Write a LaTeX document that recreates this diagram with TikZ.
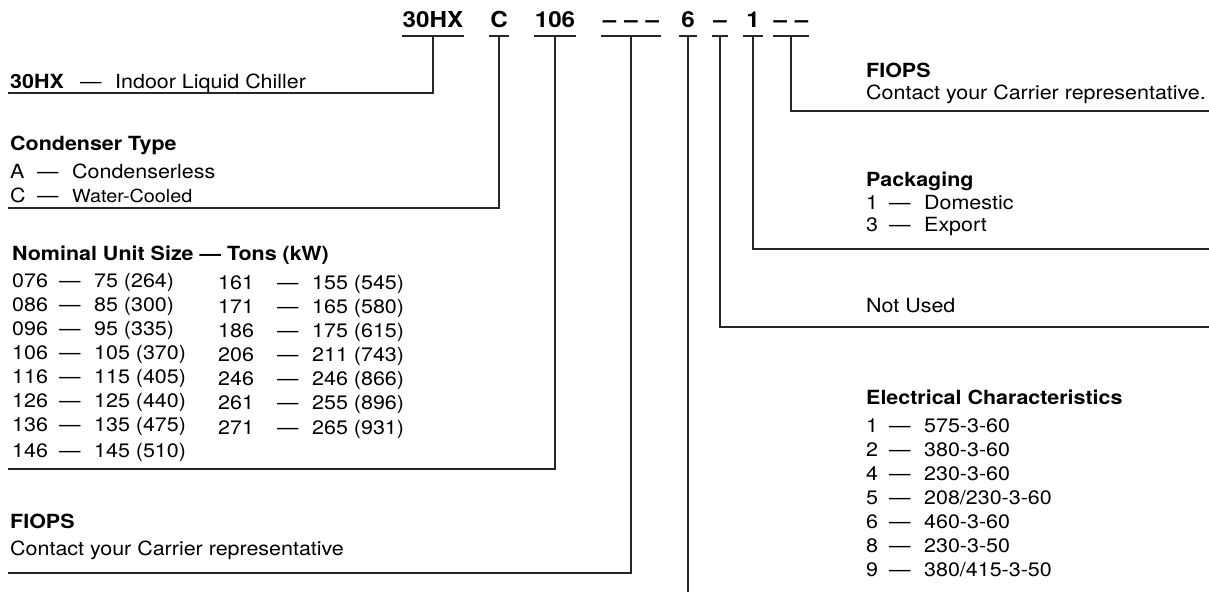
\documentclass[tikz,border=0pt]{standalone}
\usepackage{fontspec}
\setmainfont{TeX Gyre Heros}[FakeStretch=1.1]
\newcommand\kv[3]{\makebox[#1][l]{#2}\makebox[35pt][l]{—}#3}
\newcommand\dd{\hspace{8pt}}
\tikzset{
  ln/.style={line width=1.2pt, black!85, line cap=butt},
  code/.style={font=\fontsize{22}{22}\selectfont\bfseries, inner sep=0pt, anchor=base},
  body/.style={font=\fontsize{19.5}{20}\selectfont, inner sep=0pt, anchor=base west},
  head/.style={font=\fontsize{19.5}{20}\selectfont\bfseries, inner sep=0pt, anchor=base west},
}
\begin{document}
\begin{tikzpicture}[x=1pt,y=-1pt]
\useasboundingbox (0,0) rectangle (1209,592);
% top code
\node[code, minimum width=62pt] (c1) at (433,27) {30HX};
\node[code, minimum width=19pt] (c2) at (499,27) {C};
\node[code, minimum width=41pt] (c3) at (555,27) {106};
\node[code, minimum width=59pt] (c4) at (631,27) {–\dd–\dd–};
\node[code, minimum width=18pt] (c5) at (688,27) {6};
\node[code, minimum width=16pt] (c6) at (720,27) {–};
\node[code, minimum width=19pt] (c7) at (753,27) {1};
\node[code, minimum width=33pt] (c8) at (791,27) {–\dd–};
\foreach \c in {c1,c2,c3,c4,c5,c6,c7,c8}
  \draw[ln] ([yshift=-9pt]\c.base west) -- ([yshift=-9pt]\c.base east);
% line ends
\coordinate (e1) at (8,93);
\coordinate (e2) at (8,208);
\coordinate (e3) at (8,469);
\coordinate (e4) at (8,573);
\coordinate (e5) at (688,592);
\coordinate (e6) at (1209,327);
\coordinate (e7) at (1209,249);
\coordinate (e8) at (1209,111);
\draw[ln] ([yshift=-9pt]c1.base) |- (e1);
\draw[ln] ([yshift=-9pt]c2.base) |- (e2);
\draw[ln] ([yshift=-9pt]c3.base) |- (e3);
\draw[ln] ([yshift=-9pt]c4.base) |- (e4);
\draw[ln] ([yshift=-9pt]c5.base) -- (e5);
\draw[ln] ([yshift=-9pt]c6.base) |- (e6);
\draw[ln] ([yshift=-9pt]c7.base) |- (e7);
\draw[ln] ([yshift=-9pt]c8.base) |- (e8);
% left texts
\node[body] (t1) at (10,88) {\kv{70pt}{\bfseries 30HX}{Indoor Liquid Chiller}};
\node[head] (t2) at (10,150) {Condenser Type};
\node[body] (t3) at (10,178) {\kv{27pt}{A}{Condenserless}};
\node[body] (t4) at (10,202) {\kv{27pt}{C}{{\fontsize{18}{18}\selectfont Water-Cooled}}};
\node[head] (t5) at (12,260) {Nominal Unit Size — Tons (kW)};
\node[body] (s1) at (12,287) {\kv{47pt}{076}{75 (264)}};
\node[body] (s2) at (12,311) {\kv{47pt}{086}{85 (300)}};
\node[body] (s3) at (12,335) {\kv{47pt}{096}{95 (335)}};
\node[body] (s4) at (12,359) {\kv{47pt}{106}{105 (370)}};
\node[body] (s5) at (12,383) {\kv{47pt}{116}{115 (405)}};
\node[body] (s6) at (12,407) {\kv{47pt}{126}{125 (440)}};
\node[body] (s7) at (12,431) {\kv{47pt}{136}{135 (475)}};
\node[body] (s8) at (12,457) {\kv{47pt}{146}{145 (510)}};
\node[body] (u1) at (218,289) {\kv{59pt}{161}{155 (545)}};
\node[body] (u2) at (218,313) {\kv{59pt}{171}{165 (580)}};
\node[body] (u3) at (218,337) {\kv{59pt}{186}{175 (615)}};
\node[body] (u4) at (218,361) {\kv{59pt}{206}{211 (743)}};
\node[body] (u5) at (218,385) {\kv{59pt}{246}{246 (866)}};
\node[body] (u6) at (218,409) {\kv{59pt}{261}{255 (896)}};
\node[body] (u7) at (218,434) {\kv{59pt}{271}{265 (931)}};
\node[head] (f1) at (10,528) {FIOPS};
\node[body] (f2) at (10,555) {Contact your Carrier representative};
% right texts
\node[head] (r1) at (866,77) {FIOPS};
\node[body] (r2) at (866,99) {Contact your Carrier representative.};
\node[head] (r3) at (866,186) {Packaging};
\node[body] (r4) at (866,209) {\kv{23pt}{1}{Domestic}};
\node[body] (r5) at (866,231) {\kv{23pt}{3}{Export}};
\node[body] (r6) at (866,312) {Not Used};
\node[head] (r7) at (866,404) {Electrical Characteristics};
\node[body] (v1) at (866,432) {\kv{23pt}{1}{575-3-60}};
\node[body] (v2) at (866,456) {\kv{23pt}{2}{380-3-60}};
\node[body] (v3) at (866,480) {\kv{23pt}{4}{230-3-60}};
\node[body] (v4) at (866,504) {\kv{23pt}{5}{208/230-3-60}};
\node[body] (v5) at (866,528) {\kv{23pt}{6}{460-3-60}};
\node[body] (v6) at (866,552) {\kv{23pt}{8}{230-3-50}};
\node[body] (v7) at (866,576) {\kv{23pt}{9}{380/415-3-50}};
\end{tikzpicture}
\end{document}
